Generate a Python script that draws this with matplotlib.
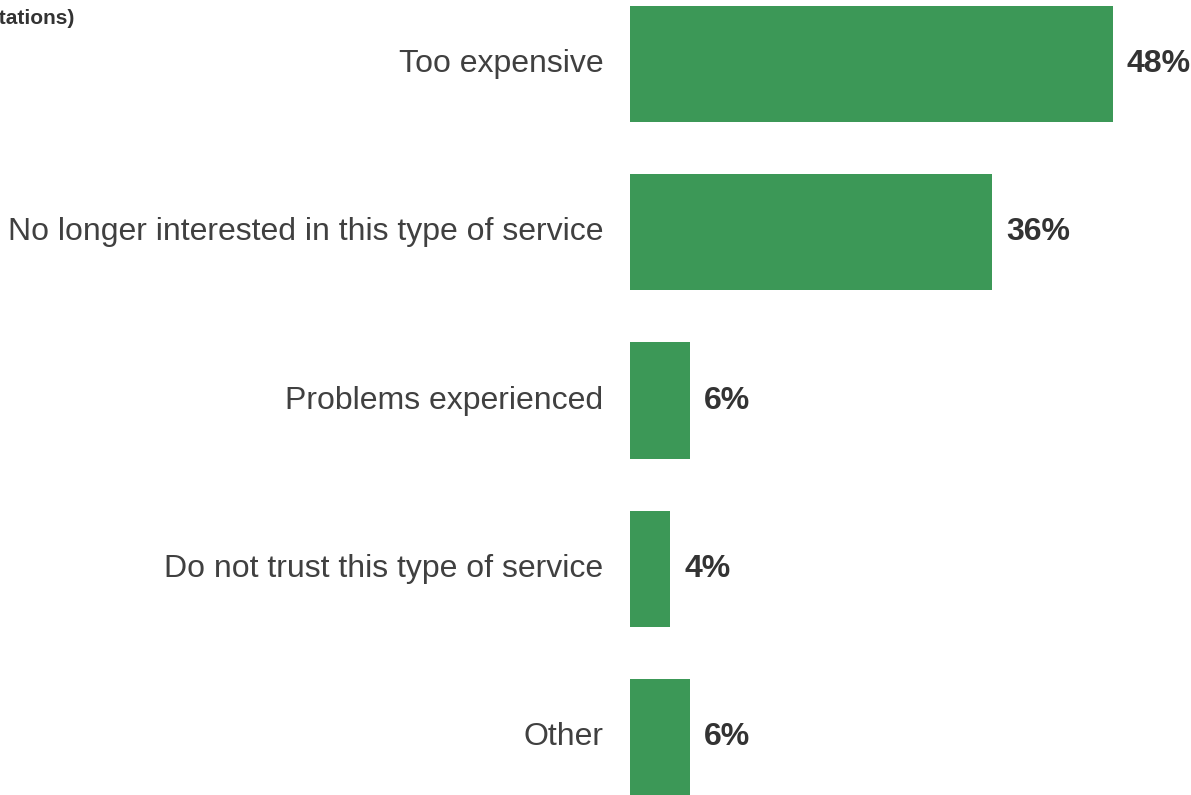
import matplotlib.pyplot as plt

plt.rcParams['font.family'] = ['Liberation Sans', 'DejaVu Sans']

reasons = ["Too expensive",
           "No longer interested in this type of service",
           "Problems experienced",
           "Do not trust this type of service",
           "Other"]
shares = [48, 36, 6, 4, 6]

fig = plt.figure(figsize=(11.91, 7.95), dpi=100)
ax = fig.add_axes([630 / 1191, 0, 1 - 630 / 1191, 1])

ypos = list(range(len(reasons)))
ax.barh(ypos, shares, height=0.69, color="#3c9857")
ax.set_xlim(0, (1191 - 630) / 10.06)
ax.set_ylim(4.345, -0.381)
ax.axis("off")

for y, name, v in zip(ypos, reasons, shares):
    ax.annotate(name, xy=(0, y), xytext=(-19, 0), textcoords="offset points",
                ha="right", va="center", fontsize=23, color="#404040")
    ax.annotate(f"{v}%", xy=(v, y), xytext=(10, 0), textcoords="offset points",
                ha="left", va="center", fontsize=23, fontweight="bold",
                color="#333333")

fig.text(74 / 1191, 1 - 18 / 795, "(multiple citations)", ha="right", va="center",
         fontsize=15, fontweight="bold", color="#333333")

fig.savefig("out.png", dpi=100)
